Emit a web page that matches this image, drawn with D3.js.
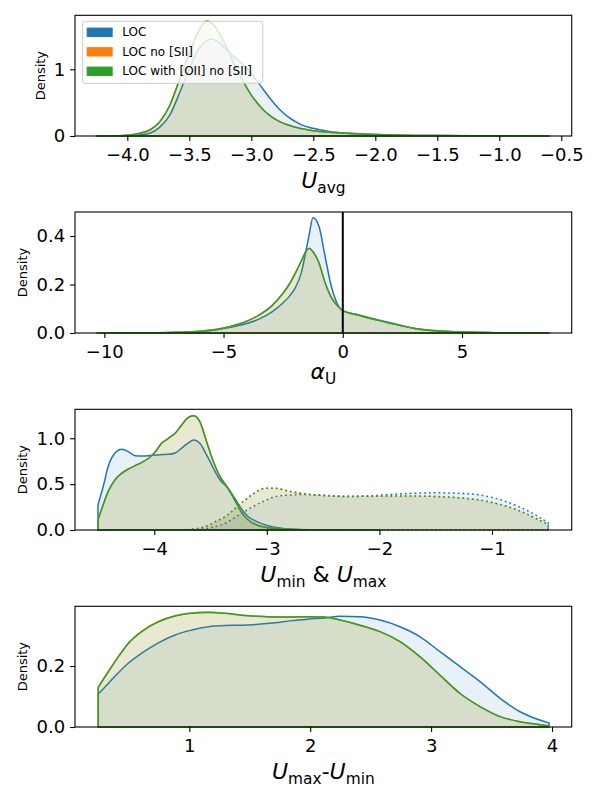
<!DOCTYPE html>
<html>
<head>
<meta charset="utf-8">
<script src="https://cdn.jsdelivr.net/npm/d3@7"></script>
<style>
  body { margin: 0; background: #fff; }
  text { font-family: "DejaVu Sans", sans-serif; }
</style>
</head>
<body>
<div id="chart"></div>
<script>
// series
var seriesNames = ["LOC", "LOC no [SII]", "LOC with [OII] no [SII]"];
var seriesColors = ["#1f77b4", "#ff7f0e", "#2ca02c"];

// panel 1 : U_avg
var uavgX   = [-4.25,-4.1,-3.98,-3.9,-3.82,-3.74,-3.66,-3.58,-3.5,-3.42,-3.36,-3.33,-3.3,-3.25,-3.2,-3.15,-3.1,-3.05,-3.0,-2.95,-2.9,-2.85,-2.8,-2.75,-2.7,-2.65,-2.6,-2.5,-2.37,-2.23,-2.0,-1.8,-1.5,-1.2,-0.9,-0.6];
var uavgLoc = [0,0.002,0.006,0.015,0.04,0.13,0.305,0.64,1.01,1.32,1.43,1.455,1.445,1.385,1.29,1.206,1.128,1.038,0.939,0.815,0.69,0.565,0.455,0.36,0.283,0.223,0.171,0.115,0.067,0.04,0.022,0.012,0.006,0.004,0.002,0.001];
var uavgNoS = [0,0.003,0.015,0.04,0.09,0.21,0.45,0.84,1.235,1.59,1.72,1.71,1.655,1.51,1.335,1.13,0.945,0.768,0.614,0.49,0.385,0.307,0.244,0.197,0.165,0.135,0.114,0.08,0.056,0.04,0.022,0.012,0.006,0.003,0.002,0.001];
var uavgOII = [0,0.003,0.015,0.04,0.09,0.21,0.45,0.84,1.235,1.59,1.724,1.71,1.655,1.51,1.335,1.13,0.945,0.768,0.614,0.49,0.385,0.307,0.244,0.197,0.165,0.135,0.114,0.08,0.056,0.04,0.022,0.012,0.006,0.003,0.002,0];

// panel 2 : alpha_U
var alphaX   = [-10.3,-9,-8,-7,-6,-5.5,-5,-4.5,-4,-3.5,-3,-2.5,-2.25,-2,-1.75,-1.5,-1.4,-1.25,-1,-0.75,-0.5,-0.25,0,0.5,1,1.5,2,2.5,3,4,5,6,7,8.65];
var alphaLoc = [0,0.001,0.001,0.002,0.005,0.01,0.018,0.028,0.04,0.058,0.085,0.125,0.15,0.185,0.245,0.36,0.41,0.475,0.44,0.32,0.2,0.125,0.092,0.078,0.066,0.054,0.042,0.03,0.02,0.009,0.004,0.002,0.001,0];
var alphaNoS = [0,0.001,0.001,0.003,0.007,0.012,0.021,0.033,0.05,0.075,0.11,0.165,0.2,0.245,0.295,0.342,0.348,0.334,0.29,0.21,0.15,0.115,0.092,0.077,0.064,0.052,0.04,0.029,0.019,0.008,0.004,0.002,0.001,0.001];
var alphaOII = [0,0.001,0.001,0.003,0.007,0.012,0.021,0.033,0.05,0.075,0.11,0.165,0.2,0.245,0.295,0.343,0.35,0.335,0.29,0.21,0.15,0.115,0.092,0.077,0.064,0.052,0.04,0.029,0.019,0.008,0.004,0.002,0.001,0];

// panel 3 : U_min (solid) & U_max (dotted)
var uminX   = [-4.5,-4.45,-4.41,-4.35,-4.29,-4.23,-4.17,-4.11,-4.05,-3.99,-3.935,-3.875,-3.815,-3.76,-3.7,-3.65,-3.595,-3.535,-3.475,-3.415,-3.345,-3.285,-3.225,-3.165,-3.09,-2.99,-2.87,-2.7,-2.4,-2.0];
var uminLoc = [0.273,0.49,0.69,0.836,0.88,0.854,0.81,0.807,0.81,0.818,0.822,0.825,0.84,0.89,0.947,0.98,0.945,0.818,0.673,0.545,0.455,0.346,0.229,0.145,0.091,0.047,0.018,0.005,0.001,0];
var uminNoS = [0.109,0.29,0.418,0.545,0.618,0.665,0.702,0.738,0.782,0.854,0.945,1.0,1.055,1.14,1.225,1.248,1.181,0.963,0.745,0.581,0.455,0.327,0.193,0.109,0.055,0.025,0.011,0.003,0.001,0];
var uminOII = [0.109,0.29,0.418,0.545,0.618,0.665,0.702,0.738,0.782,0.854,0.945,1.0,1.055,1.14,1.225,1.247,1.181,0.963,0.745,0.581,0.455,0.327,0.193,0.109,0.055,0.025,0.011,0.003,0.001,0];

var umaxX   = [-3.75,-3.6,-3.52,-3.45,-3.37,-3.28,-3.2,-3.1,-3.02,-2.93,-2.81,-2.7,-2.6,-2.48,-2.3,-2.1,-1.9,-1.7,-1.5,-1.3,-1.1,-1.0,-0.9,-0.8,-0.7,-0.6,-0.5];
var umaxLoc = [0,0.008,0.02,0.04,0.073,0.14,0.2,0.272,0.318,0.364,0.38,0.387,0.385,0.378,0.368,0.372,0.388,0.4,0.405,0.4,0.38,0.355,0.32,0.275,0.22,0.155,0.075];
var umaxNoS = [0,0.02,0.05,0.095,0.145,0.236,0.32,0.411,0.455,0.455,0.425,0.4,0.385,0.374,0.365,0.368,0.37,0.37,0.365,0.352,0.325,0.3,0.27,0.23,0.18,0.12,0.06];
var umaxOII = [0,0.02,0.05,0.095,0.145,0.236,0.32,0.411,0.455,0.455,0.425,0.4,0.385,0.374,0.365,0.368,0.37,0.37,0.365,0.352,0.325,0.3,0.27,0.23,0.18,0.12,0.058];

// panel 4 : U_max - U_min
var rangeX   = [0.247,0.33,0.413,0.495,0.606,0.744,0.882,1.02,1.157,1.295,1.433,1.57,1.709,1.846,1.984,2.12,2.247,2.412,2.578,2.743,2.909,3.074,3.24,3.405,3.571,3.736,3.874,3.976];
var rangeLoc = [0.108,0.143,0.178,0.209,0.242,0.276,0.302,0.318,0.329,0.333,0.334,0.337,0.342,0.349,0.354,0.358,0.363,0.362,0.351,0.329,0.296,0.247,0.198,0.149,0.094,0.05,0.026,0.013];
var rangeNoS = [0.131,0.182,0.231,0.275,0.314,0.346,0.365,0.374,0.377,0.373,0.367,0.363,0.361,0.361,0.362,0.36,0.351,0.334,0.313,0.28,0.23,0.17,0.11,0.067,0.034,0.017,0.009,0.004];
var rangeOII = [0.130,0.181,0.230,0.274,0.313,0.345,0.364,0.373,0.376,0.373,0.367,0.363,0.361,0.361,0.362,0.361,0.351,0.334,0.313,0.28,0.23,0.17,0.11,0.067,0.034,0.017,0.009,0.004];

// ticks
var uavgTicks  = [-4.0,-3.5,-3.0,-2.5,-2.0,-1.5,-1.0,-0.5];
var alphaTicks = [-10,-5,0,5];
var uTicks     = [-4,-3,-2,-1];
var rangeTicks = [1,2,3,4];

var w = 600, h = 800;
var axLeft = 75, axRight = 571.7;

var svg = d3.select("#chart").append("svg")
  .attr("width", w).attr("height", h);

function curves(xs, ys, dash) {
  return ys.map(function (y, i) {
    return { x: xs, y: y, color: seriesColors[i], dash: dash };
  });
}

var panels = [
  { top: 15.3, bottom: 136, xDomain: [-4.422, -0.416], yMax: 1.81,
    xTicks: uavgTicks, xFmt: d3.format(".1f"), yTicks: [0, 1], yFmt: d3.format("d"),
    curves: curves(uavgX, [uavgLoc, uavgNoS, uavgOII], false),
    label: [["U", "i"], ["avg", "s"]], labelDy: 52, densityX: 40 },
  { top: 212, bottom: 333, xDomain: [-11.23, 9.6], yMax: 0.499,
    xTicks: alphaTicks, xFmt: d3.format("d"), yTicks: [0, 0.2, 0.4], yFmt: d3.format(".1f"),
    curves: curves(alphaX, [alphaLoc, alphaNoS, alphaOII], false),
    label: [["α", "i"], ["U", "s"]], labelDy: 46, densityX: 22.5, zeroLine: true },
  { top: 409.3, bottom: 530, xDomain: [-4.704, -0.292], yMax: 1.316,
    xTicks: uTicks, xFmt: d3.format("d"), yTicks: [0, 0.5, 1.0], yFmt: d3.format(".1f"),
    curves: curves(uminX, [uminLoc, uminNoS, uminOII], false)
              .concat(curves(umaxX, [umaxLoc, umaxNoS, umaxOII], true)),
    label: [["U", "i"], ["min", "s"], [" & ", "n"], ["U", "i"], ["max", "s"]], labelDy: 52, densityX: 22.5 },
  { top: 606.3, bottom: 727, xDomain: [0.0546, 4.163], yMax: 0.396,
    xTicks: rangeTicks, xFmt: d3.format("d"), yTicks: [0, 0.2], yFmt: d3.format(".1f"),
    curves: curves(rangeX, [rangeLoc, rangeNoS, rangeOII], false),
    label: [["U", "i"], ["max", "s"], ["-", "n"], ["U", "i"], ["min", "s"]], labelDy: 52, densityX: 22.5 }
];

panels.forEach(function (p) {
  var x = d3.scaleLinear().domain(p.xDomain).range([axLeft, axRight]);
  var y = d3.scaleLinear().domain([0, p.yMax]).range([p.bottom, p.top]);
  var g = svg.append("g");

  p.curves.forEach(function (c) {
    var pts = c.x.map(function (v, i) { return [v, c.y[i]]; });
    var area = d3.area()
      .x(function (d) { return x(d[0]); })
      .y0(y(0))
      .y1(function (d) { return y(d[1]); })
      .curve(d3.curveMonotoneX);
    g.append("path")
      .attr("d", area(pts))
      .attr("fill", c.color)
      .attr("fill-opacity", 0.1)
      .attr("stroke", c.color)
      .attr("stroke-width", 1.5)
      .attr("stroke-dasharray", c.dash ? "1.8,3" : null)
      .attr("stroke-linejoin", "round");
  });

  if (p.zeroLine) {
    g.append("line")
      .attr("x1", x(0)).attr("x2", x(0))
      .attr("y1", p.top).attr("y2", p.bottom)
      .attr("stroke", "#000").attr("stroke-width", 2);
  }

  var xAxis = d3.axisBottom(x).tickValues(p.xTicks).tickFormat(p.xFmt)
    .tickSize(4.9).tickPadding(7);
  var yAxis = d3.axisLeft(y).tickValues(p.yTicks).tickFormat(p.yFmt)
    .tickSize(4.9).tickPadding(4.9);

  var gx = g.append("g").attr("transform", "translate(0," + p.bottom + ")").call(xAxis);
  var gy = g.append("g").attr("transform", "translate(" + axLeft + ",0)").call(yAxis);
  [gx, gy].forEach(function (a) {
    a.select(".domain").remove();
    a.attr("font-family", null).attr("font-size", null);
    a.selectAll("line").attr("stroke", "#000").attr("stroke-width", 1.1);
    a.selectAll("text").attr("fill", "#000").style("font-size", "18px");
  });

  g.append("rect")
    .attr("x", axLeft).attr("y", p.top)
    .attr("width", axRight - axLeft).attr("height", p.bottom - p.top)
    .attr("fill", "none").attr("stroke", "#000").attr("stroke-width", 1.1);

  // y label
  var cy = (p.top + p.bottom) / 2;
  g.append("text")
    .attr("transform", "translate(" + p.densityX + "," + cy + ") rotate(-90)")
    .attr("text-anchor", "middle")
    .attr("dominant-baseline", "central")
    .style("font-size", "13px")
    .text("Density");

  // x label
  var lab = g.append("text")
    .attr("x", (axLeft + axRight) / 2)
    .attr("y", p.bottom + p.labelDy)
    .attr("text-anchor", "middle")
    .style("font-size", "22px");
  var shifted = false;
  p.label.forEach(function (part) {
    var t = lab.append("tspan").text(part[0]);
    if (part[1] === "i") t.style("font-style", "italic");
    if (part[1] === "s") {
      t.style("font-size", "15.4px").attr("dy", shifted ? 0 : 5);
      shifted = true;
    } else if (shifted) {
      t.attr("dy", -5);
      shifted = false;
    }
  });
});

// legend (first panel)
var lg = svg.append("g");
lg.append("rect")
  .attr("x", 82.7).attr("y", 21.3).attr("width", 180).attr("height", 62)
  .attr("rx", 2.5)
  .attr("fill", "#fff").attr("fill-opacity", 0.8)
  .attr("stroke", "#cccccc").attr("stroke-width", 1);
var legY = [32.3, 51.8, 71.3];
seriesNames.forEach(function (name, i) {
  lg.append("rect")
    .attr("x", 86.7).attr("y", legY[i] - 4.7)
    .attr("width", 26).attr("height", 9.4)
    .attr("fill", seriesColors[i]);
  lg.append("text")
    .attr("x", 122.3).attr("y", legY[i])
    .attr("dominant-baseline", "central")
    .style("font-size", "12px")
    .text(name);
});
</script>
</body>
</html>
